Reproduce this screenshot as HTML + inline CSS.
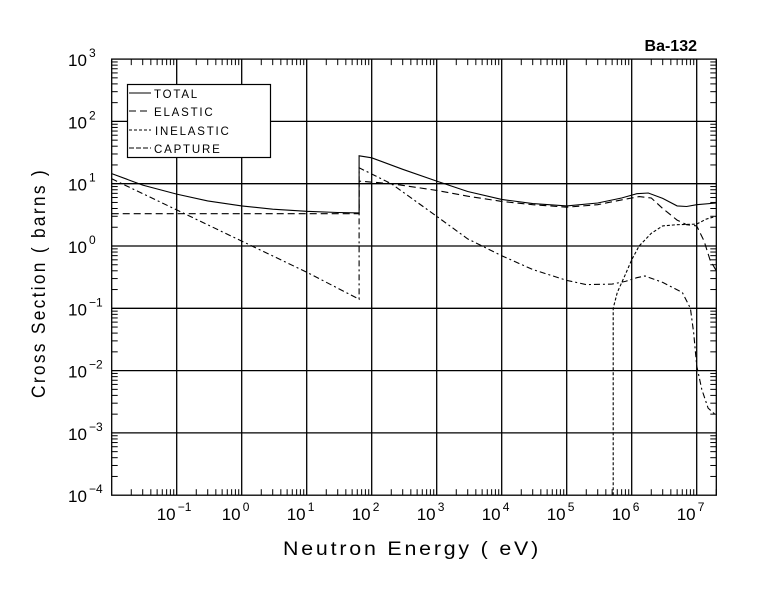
<!DOCTYPE html>
<html><head><style>
body{margin:0;background:#fff;}
svg{display:block;font-family:"Liberation Sans",sans-serif;}
</style></head><body>
<svg id="s" width="780" height="590" viewBox="0 0 780 590" xmlns="http://www.w3.org/2000/svg">
<rect width="780" height="590" fill="#fff"/>
<g id="grid" stroke="#000" stroke-width="1.3" fill="none"></g>
<g id="ticks" stroke="#000" stroke-width="1" fill="none"></g>
<g id="curves" stroke="#000" stroke-width="1.1" fill="none"></g>
<g id="labels" font-size="15" fill="#000"></g>
<text x="697" y="51" font-size="16" font-weight="bold" text-anchor="end">Ba-132</text>
<text x="412" y="555" font-size="19" text-anchor="middle" letter-spacing="2.5" textLength="258" lengthAdjust="spacingAndGlyphs">Neutron Energy (  eV)</text>
<text transform="translate(45,283) rotate(-90)" font-size="19" text-anchor="middle" letter-spacing="2.5" textLength="230" lengthAdjust="spacingAndGlyphs">Cross Section ( barns )</text>
<rect x="127.5" y="84.5" width="143" height="73" fill="#fff" stroke="#000" stroke-width="1.2"/>
<g stroke="#000" stroke-width="1.1">
<line x1="129" y1="93" x2="151" y2="93"/>
<line x1="129" y1="111" x2="151" y2="111" stroke-dasharray="7,4"/>
<line x1="129" y1="130" x2="151" y2="130" stroke-dasharray="3,2"/>
<line x1="129" y1="148" x2="151" y2="148" stroke-dasharray="5,2"/>
</g>
<g font-size="11.5" letter-spacing="1.8">
<text x="154" y="98">TOTAL</text>
<text x="154" y="116">ELASTIC</text>
<text x="155" y="135">INELASTIC</text>
<text x="154" y="153">CAPTURE</text>
</g>
</svg>
<script>
var X0=241.7,DX=65,Y0=246,DY=62.3;
function X(l){return X0+DX*l;}function Y(l){return Y0-DY*l;}
var L=111.7,R=716.3,T=59.1,B=495.2;
var g=document.getElementById('grid'),t=document.getElementById('ticks'),lb=document.getElementById('labels'),cv=document.getElementById('curves');
var NS='http://www.w3.org/2000/svg';
function el(p,n,a){var e=document.createElementNS(NS,n);for(var k in a)e.setAttribute(k,a[k]);p.appendChild(e);return e;}
el(g,'rect',{x:L,y:T,width:R-L,height:B-T});
for(var d=-1;d<=7;d++){el(g,'line',{x1:X(d),y1:T,x2:X(d),y2:B});}
for(var d=-3;d<=2;d++){el(g,'line',{x1:L,y1:Y(d),x2:R,y2:Y(d)});}
for(var d=-2;d<=7;d++)for(var m=2;m<=9;m++){var x=X(d+Math.log10(m));if(x>R)continue;
el(t,'line',{x1:x,y1:B,x2:x,y2:B-6});el(t,'line',{x1:x,y1:T,x2:x,y2:T+6});}
for(var d=-4;d<=2;d++)for(var m=2;m<=9;m++){var y=Y(d+Math.log10(m));
el(t,'line',{x1:L,y1:y,x2:L+6,y2:y});el(t,'line',{x1:R,y1:y,x2:R-6,y2:y});}
for(var d=-1;d<=7;d++){var tx=el(lb,'text',{x:X(d)-20,y:520,'font-size':17});tx.textContent='10';
var s=el(lb,'text',{x:X(d)+1,y:511,'font-size':12});s.textContent=String(d).replace('-','\u2212');}
for(var d=-4;d<=3;d++){var tx=el(lb,'text',{x:68,y:Y(d)+7,'font-size':17});tx.textContent='10';
var s=el(lb,'text',{x:89,y:Y(d)-2,'font-size':12});s.textContent=String(d).replace('-','\u2212');}
function path(pts,dash){var d='';pts.forEach(function(p,i){d+=(i?'L':'M')+X(Math.log10(p[0])).toFixed(1)+','+Y(Math.log10(p[1])).toFixed(1);});
var a={d:d};if(dash)a['stroke-dasharray']=dash;el(cv,'path',a);}
var J=64;
path([[0.01,14.5],[0.03,9.5],[0.1,6.8],[0.3,5.3],[1,4.4],[3,3.9],[10,3.6],[30,3.45],[J,3.4],[J,28],[100,26],[300,17],[1000,11],[3000,7.5],[1e4,5.6],[3e4,4.8],[1e5,4.4],[3e5,4.9],[7e5,5.9],[1.2e6,6.9],[1.8e6,7.1],[3e6,5.8],[5e6,4.4],[7e6,4.3],[1e7,4.6],[2e7,4.9]]);
path([[0.01,3.3],[J,3.3],[J,11],[200,10],[1000,7.8],[3000,6.3],[1e4,5.2],[3e4,4.6],[1e5,4.2],[3e5,4.6],[7e5,5.5],[1.3e6,6.2],[2e6,5.9],[3e6,4],[5e6,2.6],[7e6,2.2],[1e7,2.1],[1.3e7,1.2],[1.6e7,0.6],[2e7,0.4]],'7,4');
path([[0.01,12],[0.1,3.8],[1,1.2],[10,0.38],[J,0.14],[J,18],[200,10],[1000,3],[3000,1.3],[1e4,0.7],[3e4,0.42],[1e5,0.28],[2e5,0.24],[5e5,0.245],[8e5,0.27],[1.2e6,0.31],[1.6e6,0.33],[3e6,0.26],[6e6,0.18],[8e6,0.1],[9e6,0.04],[1e7,0.012],[1.2e7,0.005],[1.5e7,0.0025],[2e7,0.0019]],'6,3,2,3');
path([[5.2e5,0.0001],[5.2e5,0.1],[6e5,0.18],[8e5,0.35],[1e6,0.6],[1.3e6,1.0],[2e6,1.6],[3e6,2.1],[5e6,2.2],[1e7,2.25],[1.4e7,2.7],[2e7,3]],'3,2');
</script>
</body></html>
